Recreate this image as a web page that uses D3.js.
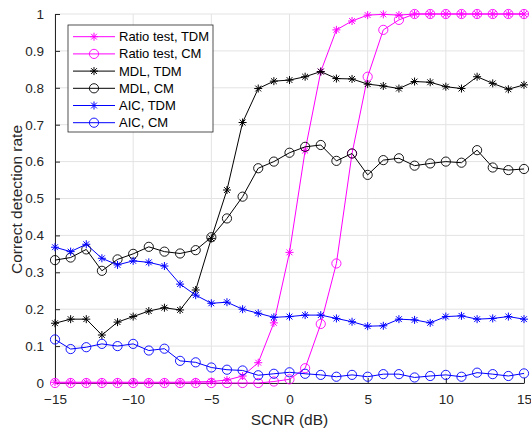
<!DOCTYPE html>
<html>
<head>
<meta charset="utf-8">
<script src="https://cdn.jsdelivr.net/npm/d3@7"></script>
<style>
  body { margin: 0; background: #fff; }
  svg { display: block; font-family: "Liberation Sans", Arial, sans-serif; }
</style>
</head>
<body>
<script>
// values
var snr = [-15, -14, -13, -12, -11, -10, -9, -8, -7, -6, -5, -4, -3, -2, -1, 0,
  1, 2, 3, 4, 5, 6, 7, 8, 9, 10, 11, 12, 13, 14, 15];
var ratioTDM = [0.002, 0.002, 0.002, 0.002, 0.002, 0.002, 0.002, 0.002, 0.002, 0.003, 0.004,
  0.008, 0.019, 0.055, 0.163, 0.354, 0.63, 0.844, 0.957, 0.981, 0.997,
  0.999, 0.997, 1, 1, 1, 1, 1, 1, 1, 1];
var ratioCM = [0, 0, 0, 0, 0, 0, 0, 0, 0, 0, 0,
  0, 0, 0, 0.004, 0.01, 0.04, 0.16, 0.324, 0.622, 0.83,
  0.957, 0.984, 1, 1, 1, 1, 1, 1, 1, 1];
var mdlTDM = [0.162, 0.173, 0.173, 0.13, 0.165, 0.18, 0.195, 0.204, 0.198, 0.252, 0.392,
  0.523, 0.706, 0.798, 0.818, 0.821, 0.83, 0.844, 0.825, 0.824, 0.81,
  0.805, 0.798, 0.817, 0.815, 0.803, 0.798, 0.83, 0.812, 0.796, 0.808];
var mdlCM = [0.333, 0.34, 0.362, 0.304, 0.335, 0.35, 0.369, 0.356, 0.351, 0.36, 0.395,
  0.446, 0.505, 0.582, 0.6, 0.624, 0.64, 0.645, 0.602, 0.622, 0.564,
  0.604, 0.609, 0.589, 0.595, 0.6, 0.597, 0.631, 0.584, 0.577, 0.58];
var aicTDM = [0.368, 0.356, 0.376, 0.338, 0.32, 0.331, 0.327, 0.317, 0.268, 0.238, 0.216,
  0.219, 0.2, 0.189, 0.178, 0.18, 0.184, 0.184, 0.175, 0.166, 0.154,
  0.155, 0.173, 0.171, 0.163, 0.18, 0.182, 0.173, 0.175, 0.18, 0.173];
var aicCM = [0.118, 0.092, 0.097, 0.106, 0.1, 0.106, 0.088, 0.093, 0.06, 0.056, 0.042,
  0.036, 0.034, 0.021, 0.025, 0.029, 0.025, 0.022, 0.017, 0.022, 0.017,
  0.024, 0.024, 0.015, 0.019, 0.022, 0.017, 0.028, 0.024, 0.019, 0.026];

var xTicks = [-15, -10, -5, 0, 5, 10, 15];
var yTicks = [0, 0.1, 0.2, 0.3, 0.4, 0.5, 0.6, 0.7, 0.8, 0.9, 1];

var series = [
  {name: "Ratio test, TDM", values: ratioTDM, color: "#ff00ff", marker: "star"},
  {name: "Ratio test, CM", values: ratioCM, color: "#ff00ff", marker: "circle"},
  {name: "MDL, TDM", values: mdlTDM, color: "#000000", marker: "star"},
  {name: "MDL, CM", values: mdlCM, color: "#000000", marker: "circle"},
  {name: "AIC, TDM", values: aicTDM, color: "#0000ff", marker: "star"},
  {name: "AIC, CM", values: aicCM, color: "#0000ff", marker: "circle"}
];

var margin = {top: 14, right: 7, bottom: 51, left: 55};
var width = 531 - margin.left - margin.right;
var height = 434 - margin.top - margin.bottom;

var svg = d3.select("body")
  .append("svg")
    .attr("width", 531)
    .attr("height", 434)
  .append("g")
    .attr("transform", "translate(" + margin.left + "," + margin.top + ")");

var x = d3.scaleLinear().domain([-15, 15]).range([0, width]);
var y = d3.scaleLinear().domain([0, 1]).range([height, 0]);

// grid
svg.append("g").selectAll("line")
  .data(xTicks)
  .enter().append("line")
    .attr("x1", function(d) { return x(d); })
    .attr("x2", function(d) { return x(d); })
    .attr("y1", 0).attr("y2", height)
    .attr("stroke", "#e3e3e3");
svg.append("g").selectAll("line")
  .data(yTicks)
  .enter().append("line")
    .attr("x1", 0).attr("x2", width)
    .attr("y1", function(d) { return y(d); })
    .attr("y2", function(d) { return y(d); })
    .attr("stroke", "#e3e3e3");

// axes (MATLAB style: ticks pointing in)
var xAxis = svg.append("g")
  .attr("transform", "translate(0," + height + ")")
  .call(d3.axisBottom(x).tickValues(xTicks).tickSize(-5).tickPadding(12).tickSizeOuter(0));
var yAxis = svg.append("g")
  .call(d3.axisLeft(y).tickValues(yTicks).tickSize(-5).tickPadding(11).tickSizeOuter(0)
    .tickFormat(function(d) { return d3.format("")(+d.toFixed(1)); }));
[xAxis, yAxis].forEach(function(a) {
  a.selectAll("path, line").attr("stroke", "#262626");
  a.selectAll("text").attr("fill", "#262626").style("font-size", "13.5px");
  a.select(".domain").attr("stroke-width", 1);
});
xAxis.selectAll("text").attr("dy", "0.71em").attr("y", 11);

svg.append("text")
  .attr("x", width / 2).attr("y", height + 42)
  .attr("text-anchor", "middle")
  .attr("fill", "#262626")
  .style("font-size", "15.5px")
  .text("SCNR (dB)");
svg.append("text")
  .attr("transform", "translate(-33," + (height / 2 + 1) + ") rotate(-90)")
  .attr("text-anchor", "middle")
  .attr("fill", "#262626")
  .style("font-size", "15.5px")
  .text("Correct detection rate");

function drawMarker(g, type, color) {
  if (type === "circle") {
    g.append("circle").attr("r", 4.6)
      .attr("fill", "none").attr("stroke", color).attr("stroke-width", 0.9);
  } else {
    g.append("path")
      .attr("d", "M-4,0H4M0,-4V4M-2.9,-2.9L2.9,2.9M-2.9,2.9L2.9,-2.9")
      .attr("fill", "none").attr("stroke", color).attr("stroke-width", 1);
  }
}

var line = d3.line()
  .x(function(d) { return x(d[0]); })
  .y(function(d) { return y(d[1]); });

var plotG = svg.append("g").attr("class", "series");
series.forEach(function(s) {
  var pts = snr.map(function(v, i) { return [v, s.values[i]]; });
  var g = plotG.append("g");
  g.append("path")
    .attr("d", line(pts))
    .attr("fill", "none")
    .attr("stroke", s.color)
    .attr("stroke-width", 1);
  g.selectAll("g.m")
    .data(pts)
    .enter().append("g")
      .attr("class", "m")
      .attr("transform", function(d) { return "translate(" + x(d[0]) + "," + y(d[1]) + ")"; })
      .each(function() { drawMarker(d3.select(this), s.marker, s.color); });
});

// legend
var legend = svg.append("g").attr("transform", "translate(13,11)");
legend.append("rect")
  .attr("width", 145).attr("height", 107)
  .attr("fill", "#fff").attr("stroke", "#262626").attr("stroke-width", 0.8);
series.forEach(function(s, i) {
  var row = legend.append("g").attr("transform", "translate(0," + (11.7 + i * 17.2) + ")");
  row.append("line")
    .attr("x1", 5).attr("x2", 47)
    .attr("stroke", s.color).attr("stroke-width", 1);
  drawMarker(row.append("g").attr("transform", "translate(26,0)"), s.marker, s.color);
  row.append("text")
    .attr("x", 51).attr("dy", "0.35em")
    .attr("fill", "#000")
    .style("font-size", "13px")
    .text(s.name);
});
</script>
</body>
</html>
